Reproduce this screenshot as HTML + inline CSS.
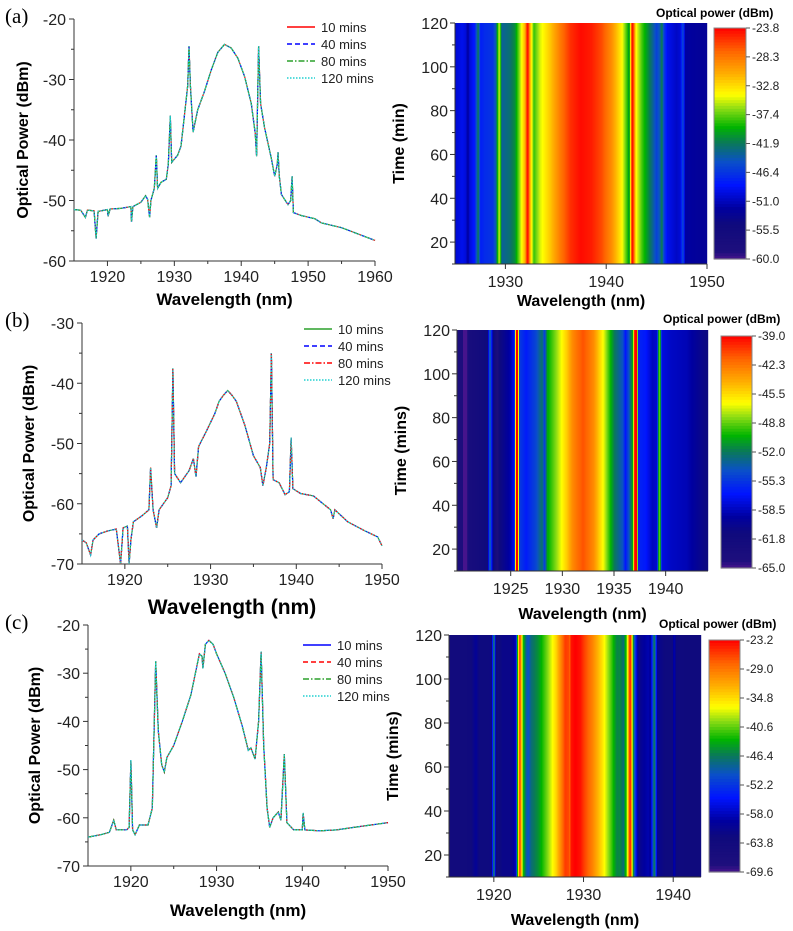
<!DOCTYPE html>
<html><head><meta charset="utf-8"><style>
html,body{margin:0;padding:0;background:#fff;}
svg{display:block;font-family:"Liberation Sans",sans-serif;}
</style></head><body>
<svg id="fig" width="793" height="931" viewBox="0 0 793 931" xmlns="http://www.w3.org/2000/svg"></svg>
<script>
// ---- data ----
const wlA=[1915,1916,1916.7,1917,1918,1918.3,1918.6,1920,1920.1,1920.4,1922,1923.5,1923.6,1923.8,1925,1925.7,1926,1926.3,1926.5,1927,1927.3,1927.5,1928,1928.8,1929.1,1929.4,1929.6,1930.5,1931,1931.5,1932,1932.2,1932.4,1932.8,1933.5,1934.5,1935.5,1936.5,1937.5,1938.5,1939.5,1940.5,1941.5,1942.1,1942.3,1942.6,1942.9,1943.5,1944.5,1945,1945.4,1945.5,1945.7,1946,1947,1947.4,1947.6,1947.8,1949,1951,1952,1955,1960];
const pwA=[-51.5,-51.6,-52.8,-51.6,-51.7,-56.3,-51.8,-51.5,-52.6,-51.4,-51.3,-51,-53.5,-51,-50.3,-49.2,-49.8,-52.8,-50,-48,-42.5,-48,-47,-46.5,-44,-36,-43.7,-42.5,-41,-36,-31,-24.5,-31,-38.7,-35,-32,-28.5,-25.5,-24.2,-24.8,-26.5,-29.5,-34,-39,-42.7,-24.5,-34,-38,-43,-46,-44,-42,-46,-49,-50.7,-50,-46,-52,-52.5,-53,-53.7,-54.5,-56.6];
const wlB=[1915,1915.5,1916,1916.3,1917,1918,1919,1919.5,1919.8,1920.3,1920.5,1920.7,1921,1922,1922.8,1923,1923.3,1923.7,1924,1925,1925.4,1925.6,1925.8,1926.5,1927.5,1928,1928.3,1928.6,1929.5,1930.5,1931,1931.5,1932,1932.5,1933,1934,1935,1935.8,1936.1,1936.5,1936.9,1937.1,1937.3,1938,1938.7,1939.2,1939.4,1939.6,1940.5,1942,1944,1944.3,1944.5,1946,1948,1949.5,1950];
const pwB=[-66,-66.5,-68.5,-66,-65,-64.5,-64.2,-70.5,-64,-63.7,-70.5,-66,-63,-62,-61,-54,-61,-64,-61,-59,-57,-37.5,-55,-56.5,-54.5,-52.5,-55.5,-50.5,-48,-45,-43,-42,-41.2,-42,-43,-47,-52,-54,-57,-54,-50,-35,-56,-56.5,-58.5,-58,-49,-57.5,-58.3,-58.7,-61,-62.5,-61,-63,-64.5,-65.5,-67];
const wlC=[1915,1916.5,1917.5,1918,1918.3,1919.5,1919.8,1920,1920.2,1920.5,1921,1922,1922.5,1922.9,1923.2,1923.6,1923.9,1924.2,1925,1926,1927,1928,1928.3,1928.4,1928.7,1929.1,1929.6,1930,1931,1932,1933,1933.7,1934,1934.5,1934.9,1935.2,1935.5,1935.9,1936.2,1936.6,1937.2,1937.5,1937.9,1938.2,1939,1940,1940.1,1940.3,1942,1944,1946,1948,1950];
const pwC=[-64,-63.5,-63,-60.5,-62.5,-62.5,-62,-48,-62.5,-63.5,-61.5,-61.5,-58,-27.5,-42,-49,-50.5,-47.5,-45,-40,-34.5,-26,-26.5,-29,-24,-23.2,-24,-26,-30,-35,-41,-46,-45.5,-47.8,-40,-25.5,-45,-58,-62,-60,-58.8,-60.5,-46.8,-61,-62.5,-62.5,-59,-62.5,-62.7,-62.5,-62,-61.5,-61];
const seriesLabels=["10 mins","40 mins","80 mins","120 mins"];
const xTicksA=[1920,1930,1940,1950,1960], yTicksA=[-20,-30,-40,-50,-60];
const xTicksB=[1920,1930,1940,1950], yTicksB=[-30,-40,-50,-60,-70];
const xTicksC=[1920,1930,1940,1950], yTicksC=[-20,-30,-40,-50,-60,-70];
const timeTicks=[20,40,60,80,100,120];
const cbTicksA=["-23.8","-28.3","-32.8","-37.4","-41.9","-46.4","-51.0","-55.5","-60.0"];
const cbTicksB=["-39.0","-42.3","-45.5","-48.8","-52.0","-55.3","-58.5","-61.8","-65.0"];
const cbTicksC=["-23.2","-29.0","-34.8","-40.6","-46.4","-52.2","-58.0","-63.8","-69.6"];
const hmXTicksA=[1930,1940,1950], hmXTicksB=[1925,1930,1935,1940], hmXTicksC=[1920,1930,1940];

const S=document.getElementById('fig'), NS="http://www.w3.org/2000/svg";
function mk(tag,at,name,parent){const e=document.createElementNS(NS,tag);for(const k in at)e.setAttribute(k,at[k]);


(parent||S).appendChild(e);return e;}
function txt(x,y,s,name,st){const t=mk('text',Object.assign({x:x,y:y},st||{}),name);t.textContent=s;return t;}
function interp(wl,pw,x){if(x<=wl[0])return pw[0];for(let i=1;i<wl.length;i++){if(x<=wl[i]){const f=(x-wl[i-1])/(wl[i]-wl[i-1]);return pw[i-1]+f*(pw[i]-pw[i-1]);}}return pw[pw.length-1];}
function maxIn(wl,pw,a,b){let m=Math.max(interp(wl,pw,a),interp(wl,pw,b));for(let i=0;i<wl.length;i++)if(wl[i]>=a&&wl[i]<=b)m=Math.max(m,pw[i]);return m;}
const stops=[[0,[70,20,140]],[0.03,[30,15,125]],[0.15,[15,10,125]],[0.22,[0,0,160]],[0.32,[0,20,255]],[0.42,[10,80,200]],[0.5,[10,120,90]],[0.57,[0,180,0]],[0.65,[140,220,20]],[0.71,[255,255,0]],[0.8,[255,175,0]],[0.9,[255,100,0]],[1,[255,0,0]]];
function cmap(f){f=Math.max(0,Math.min(1,f));for(let i=1;i<stops.length;i++)if(f<=stops[i][0]){const a=stops[i-1],b=stops[i],t=(f-a[0])/(b[0]-a[0]);return 'rgb('+a[1].map((v,j)=>Math.round(v+t*(b[1][j]-v))).join(',')+')';}return 'rgb(255,0,0)';}

function lineChart(p){
  const X=v=>p.x0+(v-p.xmin)/(p.xmax-p.xmin)*(p.x1-p.x0), Y=v=>p.y1-(v-p.ymin)/(p.ymax-p.ymin)*(p.y1-p.y0);
  const g=mk('g',{},p.id+'-spectrum-chart');
  mk('line',{x1:p.x0,y1:p.y0,x2:p.x0,y2:p.y1,stroke:'#333','stroke-width':1},p.id+'-y-axis',g);
  mk('line',{x1:p.x0,y1:p.y1,x2:p.x1,y2:p.y1,stroke:'#333','stroke-width':1},p.id+'-x-axis',g);
  p.xt.forEach((v,i)=>{mk('line',{x1:X(v),y1:p.y1,x2:X(v),y2:p.y1+5,stroke:'#333'},p.id+'-x-tick',g);
    txt(X(v),p.y1+21,String(v),p.id+'-x-tick-label',{'font-size':16,'text-anchor':'middle',fill:'#222'});
    if(i>0){const m=(v+p.xt[i-1])/2;mk('line',{x1:X(m),y1:p.y1,x2:X(m),y2:p.y1+3,stroke:'#333'},p.id+'-x-minor-tick',g);}});
  p.yt.forEach((v,i)=>{mk('line',{x1:p.x0-5,y1:Y(v),x2:p.x0,y2:Y(v),stroke:'#333'},p.id+'-y-tick',g);
    txt(p.x0-8,Y(v)+6,String(v),p.id+'-y-tick-label',{'font-size':16,'text-anchor':'end',fill:'#222'});
    if(i>0){const m=(v+p.yt[i-1])/2;mk('line',{x1:p.x0-3,y1:Y(m),x2:p.x0,y2:Y(m),stroke:'#333'},p.id+'-y-minor-tick',g);}});
  const d=p.wl.map((w,i)=>(i?'L':'M')+X(w).toFixed(1)+','+Y(Math.max(p.ymin,p.pw[i])).toFixed(1)).join(' ');
  const dash=['none','5,3','6,2,1.5,2','1.5,1.5'];
  p.colors.forEach((c,k)=>{mk('path',{d:d,fill:'none',stroke:c,'stroke-width':1.2,'stroke-dasharray':dash[k]},p.id+'-series-'+seriesLabels[k].replace(' ','-'),g);
    const ly=p.ly+k*p.ld;
    mk('line',{x1:p.lx,y1:ly,x2:p.lx+28,y2:ly,stroke:c,'stroke-width':1.5,'stroke-dasharray':dash[k]},p.id+'-legend-swatch',g);
    txt(p.lx+34,ly+5,seriesLabels[k],p.id+'-legend-entry',{'font-size':13,fill:'#222'});});
  txt(0,0,'Optical Power (dBm)',p.id+'-y-axis-title',{'font-size':16,'font-weight':'bold','text-anchor':'middle',transform:'translate('+p.ytx+','+((p.y0+p.y1)/2)+') rotate(-90)'});
  txt((p.x0+p.x1)/2,p.xty,'Wavelength (nm)',p.id+'-x-axis-title',{'font-size':p.xts,'font-weight':'bold','text-anchor':'middle'});
  txt(5,p.y0+4,p.label,p.id+'-panel-label',{'font-size':21,'font-family':'"Liberation Serif",serif'});
}
function heat(p){
  const X=v=>p.x0+(v-p.xmin)/(p.xmax-p.xmin)*(p.x1-p.x0), Y=v=>p.y1-(v-10)/(110)*(p.y1-p.y0);
  const g=mk('g',{},p.id+'-heatmap');
  for(let px=p.x0;px<p.x1;px++){const a=p.xmin+(px-p.x0)/(p.x1-p.x0)*(p.xmax-p.xmin),b=p.xmin+(px+1-p.x0)/(p.x1-p.x0)*(p.xmax-p.xmin);
    const v=maxIn(p.wl,p.pw,a,b);mk('rect',{x:px,y:p.y0,width:1.2,height:p.y1-p.y0,fill:cmap((v-p.cmin)/(p.cmax-p.cmin))},p.id+'-heatmap-cell',g);}
  mk('line',{x1:p.x0,y1:p.y0,x2:p.x0,y2:p.y1,stroke:'#333'},p.id+'-heatmap-y-axis',g);
  mk('line',{x1:p.x0,y1:p.y1,x2:p.x1,y2:p.y1,stroke:'#333'},p.id+'-heatmap-x-axis',g);
  timeTicks.forEach(v=>{mk('line',{x1:p.x0-5,y1:Y(v),x2:p.x0,y2:Y(v),stroke:'#333'},p.id+'-time-tick',g);
    mk('line',{x1:p.x0-3,y1:Y(v-10),x2:p.x0,y2:Y(v-10),stroke:'#333'},p.id+'-time-minor-tick',g);
    txt(p.x0-7,Y(v)+6,String(v),p.id+'-time-tick-label',{'font-size':16,'text-anchor':'end',fill:'#222'});});
  p.xt.forEach(v=>{mk('line',{x1:X(v),y1:p.y1,x2:X(v),y2:p.y1+5,stroke:'#333'},p.id+'-heatmap-x-tick',g);
    txt(X(v),p.y1+23,String(v),p.id+'-heatmap-x-tick-label',{'font-size':16,'text-anchor':'middle',fill:'#222'});});
  txt(0,0,p.ytitle,p.id+'-time-axis-title',{'font-size':16,'font-weight':'bold','text-anchor':'middle',transform:'translate('+p.ytx+','+((p.y0+p.y1)/2)+') rotate(-90)'});
  txt((p.x0+p.x1)/2,p.xty,'Wavelength (nm)',p.id+'-heatmap-x-axis-title',{'font-size':16,'font-weight':'bold','text-anchor':'middle'});
  const n=80,h=(p.cb.y1-p.cb.y0)/n;
  for(let i=0;i<n;i++)mk('rect',{x:p.cb.x0,y:p.cb.y0+i*h,width:p.cb.x1-p.cb.x0,height:h+0.6,fill:cmap(1-(i+0.5)/n)},p.id+'-colorbar-segment',g);
  mk('rect',{x:p.cb.x0,y:p.cb.y0,width:p.cb.x1-p.cb.x0,height:p.cb.y1-p.cb.y0,fill:'none',stroke:'#888'},p.id+'-colorbar',g);
  p.cbt.forEach((s,i)=>{const y=p.cb.y0+i*(p.cb.y1-p.cb.y0)/(p.cbt.length-1);
    mk('line',{x1:p.cb.x1,y1:y,x2:p.cb.x1+4,y2:y,stroke:'#555'},p.id+'-colorbar-tick',g);
    txt(p.cb.x1+6,y+4,s,p.id+'-colorbar-tick-label',{'font-size':12,fill:'#222'});});
  txt(p.cbtx,p.cbty,'Optical power (dBm)',p.id+'-colorbar-title',{'font-size':12,'font-weight':'bold'});
}
const cA=['#ff0000','#0000ff','#2ca02c','#20d0d0'], cB=['#2ca02c','#0000ff','#ff0000','#20d0d0'], cC=['#0000ff','#ff0000','#2ca02c','#20d0d0'];
lineChart({id:'a',label:'(a)',wl:wlA,pw:pwA,xmin:1915,xmax:1960,ymin:-60,ymax:-20,x0:74,x1:375,y0:19,y1:261,xt:xTicksA,yt:yTicksA,colors:cA,lx:287,ly:27,ld:17,ytx:28,xty:305,xts:17});
lineChart({id:'b',label:'(b)',wl:wlB,pw:pwB,xmin:1915,xmax:1950,ymin:-70,ymax:-30,x0:82,x1:382,y0:323,y1:564,xt:xTicksB,yt:yTicksB,colors:cB,lx:304,ly:329,ld:17,ytx:34,xty:614,xts:21});
lineChart({id:'c',label:'(c)',wl:wlC,pw:pwC,xmin:1915,xmax:1950,ymin:-70,ymax:-20,x0:88,x1:388,y0:625,y1:866,xt:xTicksC,yt:yTicksC,colors:cC,lx:303,ly:645,ld:17,ytx:40,xty:916,xts:17});
heat({id:'a',wl:wlA,pw:pwA,xmin:1925,xmax:1950,x0:455,x1:707,y0:23,y1:264,xt:hmXTicksA,cmin:-60,cmax:-23.8,ytitle:'Time (min)',ytx:404,xty:306,cb:{x0:714,x1:746,y0:28,y1:259},cbt:cbTicksA,cbtx:656,cbty:17});
heat({id:'b',wl:wlB,pw:pwB,xmin:1919.8,xmax:1944.1,x0:457,x1:708,y0:330,y1:571,xt:hmXTicksB,cmin:-65,cmax:-39,ytitle:'Time (mins)',ytx:406,xty:619,cb:{x0:721,x1:752,y0:336,y1:568},cbt:cbTicksB,cbtx:663,cbty:323});
heat({id:'c',wl:wlC,pw:pwC,xmin:1915,xmax:1943.1,x0:449,x1:701,y0:635,y1:877,xt:hmXTicksC,cmin:-69.6,cmax:-23.2,ytitle:'Time (mins)',ytx:398,xty:925,cb:{x0:709,x1:740,y0:640,y1:872},cbt:cbTicksC,cbtx:659,cbty:628});
</script>
</body></html>
